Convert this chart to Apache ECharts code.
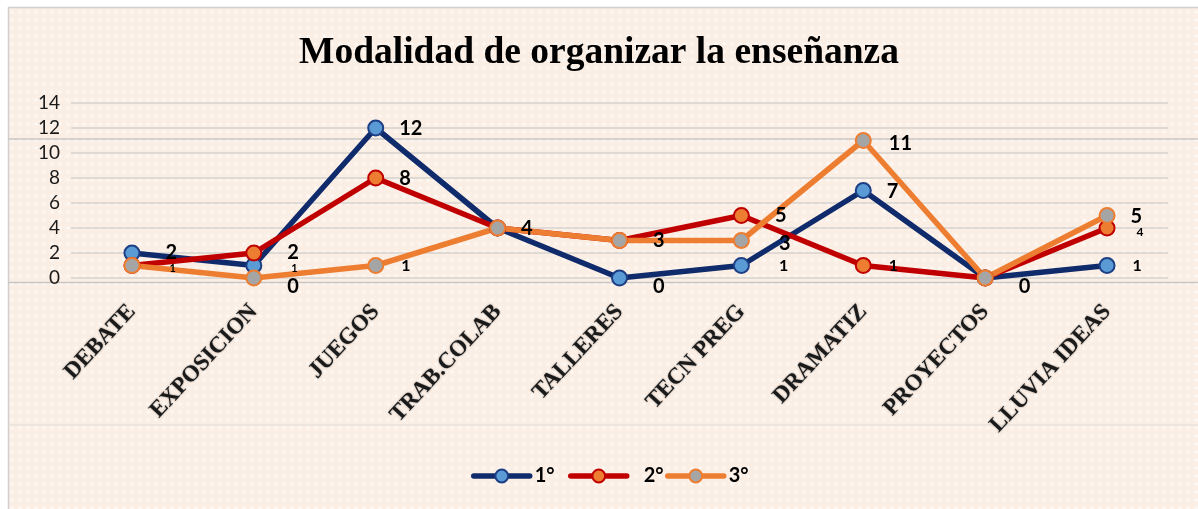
<!DOCTYPE html>
<html>
<head>
<meta charset="utf-8" />
<title>Modalidad de organizar la enseñanza</title>
<script src="https://cdn.jsdelivr.net/npm/echarts@6/dist/echarts.min.js"></script>
<style>
    html, body { margin: 0; padding: 0; background: #fff; }
    #main {
        width: 1198px; height: 509px;
        background-color: #fbeee4;
        background-image: radial-gradient(circle, rgba(255,255,255,0.55) 1.5px, transparent 2px);
        background-size: 8px 8px;
        box-shadow: inset 8px 7px 0 0 #fff;
    }
</style>
</head>
<body>
<div id="main"></div>
<script type="text/javascript">
    // datos
    var categorias = ['DEBATE', 'EXPOSICION', 'JUEGOS', 'TRAB.COLAB', 'TALLERES', 'TECN PREG', 'DRAMATIZ', 'PROYECTOS', 'LLUVIA IDEAS'];
    var nombres = ['1°', '2°', '3°'];
    var primero = [2, 1, 12, 4, 0, 1, 7, 0, 1];
    var segundo = [1, 2, 8, 4, 3, 5, 1, 0, 4];
    var tercero = [1, 0, 1, 4, 3, 3, 11, 0, 5];
    var yTicks = [0, 2, 4, 6, 8, 10, 12, 14];

    // como se ve cada etiqueta (estilo, no datos)
    var etiq1 = ['f', 's', 'n', '-', 'z', 'mf', 'n', '-', 'm'];
    var etiq2 = ['s', 'f', 'n', '-', '-', 'f', 'm', '-', 's2'];
    var etiq3 = ['-', 'z', 'm', 'n', 'f', 'f3', 'n3', 'z', 'n'];

    var estilos = {
        'n':  { fontSize: 20, distance: 15, dy: 1 },
        'n3': { fontSize: 20, distance: 17, dy: 3 },
        'f':  { fontSize: 20, distance: 25, dy: 0 },
        'f3': { fontSize: 20, distance: 29, dy: 3 },
        'm':  { fontSize: 16, distance: 17, dy: 0 },
        'mf': { fontSize: 16, distance: 29, dy: 0 },
        's':  { fontSize: 11, distance: 29, dy: 3 },
        's2': { fontSize: 12, distance: 21, dy: 4 },
        'z':  { fontSize: 20, distance: 25, dy: 9 }
    };

    function puntos(valores, etiquetas) {
        return valores.map(function (v, i) {
            var k = etiquetas[i];
            if (k === '-') {
                return { value: v, label: { show: false } };
            }
            var e = estilos[k];
            return {
                value: v,
                label: {
                    show: true,
                    position: 'right',
                    distance: e.distance,
                    offset: [0, e.dy],
                    fontSize: e.fontSize
                }
            };
        });
    }

    function serie(nombre, valores, etiquetas, linea, relleno, borde) {
        return {
            name: nombre,
            type: 'line',
            data: puntos(valores, etiquetas),
            symbol: 'circle',
            symbolSize: 15,
            lineStyle: { color: linea, width: 5.5 },
            itemStyle: { color: relleno, borderColor: borde, borderWidth: 2 },
            label: {
                color: '#000',
                fontFamily: 'Lato',
                fontWeight: 'bold'
            },
            emphasis: { disabled: true }
        };
    }

    // una leyenda por serie, para copiar los huecos del original
    function leyenda(nombre, x) {
        return {
            left: x,
            top: 461,
            itemWidth: 56,
            itemHeight: 16,
            lineStyle: { width: 5.5, cap: 'round' },
            textStyle: {
                fontFamily: 'Lato',
                fontWeight: 'bold',
                fontSize: 20,
                color: '#000',
                padding: [0, 0, 0, nombre === '2°' ? 12 : 0]
            },
            data: [nombre]
        };
    }

    var myChart = echarts.init(document.getElementById('main'));

    var option = {
        animation: false,
        title: {
            text: 'Modalidad de organizar la enseñanza',
            left: 'center',
            top: 29,
            textStyle: {
                fontFamily: 'Liberation Serif',
                fontWeight: 'bold',
                fontSize: 37.5,
                color: '#000'
            }
        },
        legend: [
            leyenda(nombres[0], 466),
            leyenda(nombres[1], 563),
            leyenda(nombres[2], 660)
        ],
        grid: {
            left: 71,
            right: 30,
            top: 103,
            bottom: 231
        },
        xAxis: {
            type: 'category',
            data: categorias,
            boundaryGap: true,
            axisTick: { show: false },
            axisLine: { show: false },
            axisLabel: {
                interval: 0,
                rotate: 47,
                margin: 30,
                fontFamily: 'Liberation Serif',
                fontWeight: 'bold',
                fontSize: 23,
                color: '#1a1a1a',
                textShadowColor: 'rgba(0,0,0,0.45)',
                textShadowBlur: 2
            }
        },
        yAxis: {
            type: 'value',
            min: yTicks[0],
            max: yTicks[yTicks.length - 1],
            interval: 2,
            axisLine: { show: false },
            axisTick: { show: false },
            axisLabel: {
                margin: 11,
                fontFamily: 'Lato',
                fontSize: 19,
                color: '#1a1a1a'
            },
            splitLine: { lineStyle: { color: '#d6d2cf', width: 1.5 } }
        },
        graphic: [
            { type: 'line', shape: { x1: 8, y1: 7.5, x2: 1198, y2: 7.5 }, style: { stroke: '#d0d0d0', lineWidth: 1.5 }, silent: true },
            { type: 'line', shape: { x1: 8.5, y1: 7, x2: 8.5, y2: 509 }, style: { stroke: '#d0d0d0', lineWidth: 1.5 }, silent: true },
            { type: 'line', shape: { x1: 8, y1: 139, x2: 1198, y2: 139 }, style: { stroke: '#c8c6c4', lineWidth: 1.5 }, silent: true },
            { type: 'line', shape: { x1: 8, y1: 282.5, x2: 1198, y2: 282.5 }, style: { stroke: '#c8c6c4', lineWidth: 1.5 }, silent: true },
            { type: 'line', shape: { x1: 8, y1: 425, x2: 1198, y2: 425 }, style: { stroke: '#e0dcd8', lineWidth: 1 }, silent: true }
        ],
        series: [
            serie(nombres[0], primero, etiq1, '#0f2b6b', '#5b9bd5', '#1c3f85'),
            serie(nombres[1], segundo, etiq2, '#c00000', '#ed7d31', '#c00000'),
            serie(nombres[2], tercero, etiq3, '#ed7d31', '#a5a5a5', '#ed7d31')
        ]
    };
    myChart.setOption(option);
</script>
</body>
</html>
